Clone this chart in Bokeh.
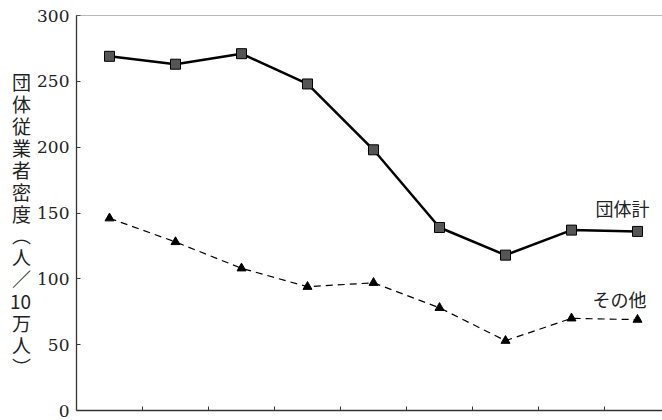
from bokeh.plotting import figure
from bokeh.models import Range1d, FixedTicker, Label, Span
from bokeh.embed import file_html
from bokeh.resources import INLINE

# data
periods = [1, 2, 3, 4, 5, 6, 7, 8, 9]
dantai_kei = [269, 263, 271, 248, 198, 139, 118, 137, 136]
sonota = [146, 128, 108, 94, 97, 78, 53, 70, 69]
y_ticks = [0, 50, 100, 150, 200, 250, 300]
x_ticks = [1.5, 2.5, 3.5, 4.5, 5.5, 6.5, 7.5, 8.5]
ylabel_chars = ["団", "体", "従", "業", "者", "密", "度", "︵", "人", "／", "10", "万", "人", "︶"]

W, H = 662, 420
LEFT, TOP, BOTTOM = 76, 15, 10
PX_PER_X = 66.0

p = figure(width=W, height=H, output_backend="svg", toolbar_location=None,
           x_range=Range1d(0.5, 0.5 + (W - LEFT) / PX_PER_X), y_range=Range1d(0, 300),
           min_border_left=LEFT, min_border_top=TOP, min_border_bottom=BOTTOM,
           min_border_right=0)
p.outline_line_color = None
p.grid.visible = False
p.background_fill_color = "white"
p.border_fill_color = "white"

for ax in (p.xaxis[0], p.yaxis[0]):
    ax.axis_line_color = "#333333"
    ax.axis_line_width = 1.3
    ax.major_tick_line_color = "#333333"
    ax.major_tick_in = 4
    ax.major_tick_out = 0
    ax.minor_tick_line_color = None

p.yaxis.ticker = FixedTicker(ticks=y_ticks)
p.yaxis.major_label_text_font = "DejaVu Serif"
p.yaxis.major_label_text_font_size = "17px"
p.yaxis.major_label_text_color = "#222222"
p.yaxis.major_label_standoff = 7

p.yaxis.axis_label = "\n".join([" "] + ylabel_chars)
p.yaxis.axis_label_orientation = "horizontal"
p.yaxis.axis_label_text_align = "center"
p.yaxis.axis_label_text_font = "Noto Sans CJK JP"
p.yaxis.axis_label_text_font_size = "19px"
p.yaxis.axis_label_text_font_style = "normal"
p.yaxis.axis_label_text_color = "#222222"
p.yaxis.axis_label_text_line_height = 0.81
p.yaxis.axis_label_standoff = 3

p.xaxis.ticker = FixedTicker(ticks=x_ticks)
p.xaxis.major_label_overrides = {t: "" for t in x_ticks}
p.xaxis.major_label_text_font_size = "1px"
p.xaxis.major_label_standoff = 0

p.add_layout(Span(location=300, dimension="width", line_color="#777777", line_width=1))

p.line(periods, dantai_kei, line_color="black", line_width=2.5)
p.scatter(periods, dantai_kei, marker="square", size=10, fill_color="#555555",
          line_color="black", line_width=1)

p.line(periods, sonota, line_color="black", line_width=1.2, line_dash="7 5")
p.scatter(periods, sonota, marker="triangle", size=9, fill_color="black",
          line_color="black")

p.add_layout(Label(x=9, y=154, text="団体計", text_align="right", text_baseline="middle",
                   x_offset=12, text_font="Noto Sans CJK JP", text_font_size="18px",
                   text_color="#222222"))
p.add_layout(Label(x=9, y=85, text="その他", text_align="right", text_baseline="middle",
                   x_offset=9, text_font="Noto Sans CJK JP", text_font_size="18px",
                   text_color="#222222"))

open("out.html", "w").write(file_html(p, INLINE))
